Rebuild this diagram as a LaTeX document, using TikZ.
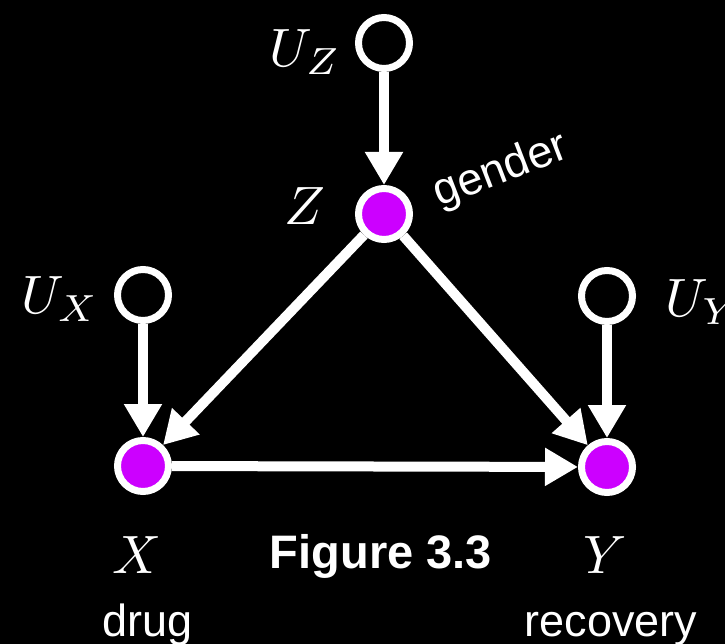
\documentclass[tikz,border=0pt]{standalone}
\usepackage{fontspec}
\setsansfont{Liberation Sans}
\usetikzlibrary{arrows.meta}
\definecolor{nodepurple}{RGB}{204,0,255}
\newcommand\bigmath[1]{\scalebox{5.4}{$#1$}}
\tikzset{
  var/.style={circle, draw=white, line width=7pt, minimum size=51pt, inner sep=0pt, fill=nodepurple},
  exo/.style={circle, draw=white, line width=7pt, minimum size=51pt, inner sep=0pt, fill=black},
  edge/.style={draw=white, line width=10pt, -{Triangle[length=33pt,width=36pt]}},
  mlabel/.style={text=white, inner sep=0pt},
  slabel/.style={text=white, font=\sffamily\fontsize{45}{48}\selectfont, inner sep=0pt},
}
\begin{document}
\begin{tikzpicture}[x=1pt,y=-1pt]
\fill[black] (0,0) rectangle (725,644);
\useasboundingbox (0,0) rectangle (725,644);
\node[exo] (UZ) at (384,43) {};
\node[var] (Z) at (384,214) {};
\node[exo] (UX) at (143,295) {};
\node[var] (X) at (143,466) {};
\node[exo] (UY) at (607,296) {};
\node[var] (Y) at (607,467) {};
\draw[edge] (UZ) -- (Z);
\draw[edge] (UX) -- (X);
\draw[edge] (UY) -- (Y);
\draw[edge] (Z) -- (X);
\draw[edge] (Z) -- (Y);
\draw[edge] (X) -- (Y);
\node[mlabel] (lUZ) at (305,52) {\bigmath{U_Z}};
\node[mlabel] (lZ) at (305,206) {\bigmath{Z}};
\node[mlabel] (lUX) at (60,299) {\bigmath{U_X}};
\node[mlabel, anchor=west] (lUY) at (665,302) {\bigmath{U_Y}};
\node[mlabel] (lX) at (137,555) {\bigmath{X}};
\node[mlabel] (lY) at (605,555) {\bigmath{Y}};
\node[slabel, font=\sffamily\bfseries\fontsize{47}{50}\selectfont] (fig) at (381,556) {Figure 3.3};
\node[slabel, anchor=base] (drug) at (148,636) {drug};
\node[slabel, anchor=base] (rec) at (611,636) {recovery};
\node[slabel, font=\sffamily\fontsize{45}{48}\selectfont, rotate=21] (gen) at (501,171) {gender};
\end{tikzpicture}
\end{document}
